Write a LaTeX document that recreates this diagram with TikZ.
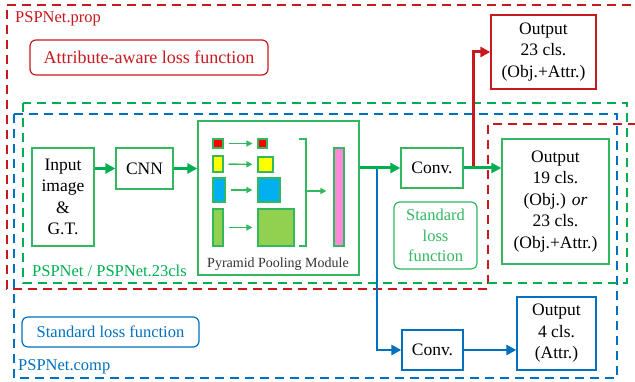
\documentclass[tikz,border=0pt]{standalone}
\usepackage{fontspec}
\setmainfont{Liberation Serif}
\usetikzlibrary{arrows.meta}

\definecolor{pspred}{RGB}{200,25,30}
\definecolor{pspgreen}{RGB}{0,176,80}
\definecolor{nodegreen}{RGB}{50,185,95}
\definecolor{pspblue}{RGB}{0,112,192}
\definecolor{ppmred}{RGB}{255,0,0}
\definecolor{ppmyellow}{RGB}{255,255,0}
\definecolor{ppmcyan}{RGB}{0,176,240}
\definecolor{ppmlime}{RGB}{146,208,80}
\definecolor{ppmpink}{RGB}{255,136,216}

\begin{document}
\begin{tikzpicture}[x=1pt,y=-1pt,
  region/.style={line width=2.2pt, dash pattern=on 9pt off 6pt},
  box/.style={draw=#1, line width=1.3pt, fill=white, inner sep=0pt, align=center,
    font=\fontsize{17.5}{21.5}\selectfont},
  box/.default=nodegreen,
  lossbox/.style={draw=#1, text=#1, line width=1.2pt, rounded corners=6pt, inner sep=0pt,
    align=center, font=\fontsize{16.5}{20.5}\selectfont},
  tag/.style={anchor=west, inner sep=0pt, font=\fontsize{16.5}{20}\selectfont},
  cell/.style={draw=nodegreen, line width=1.1pt, fill=#1, inner sep=0pt},
  flow/.style={line width=3pt, -{Triangle[length=10pt,width=10pt]}},
  smallflow/.style={draw=nodegreen, line width=1.4pt, -{Triangle[length=6pt,width=6pt]},
    shorten <=5pt, shorten >=5pt},
]
\useasboundingbox (0,0) rectangle (635,382);
\clip (0,0) rectangle (635,382);

% nested experiment regions
\draw[region, pspred] (7,5) -- (645,5) -- (645,124) -- (488,124) -- (488,289) -- (7,289) -- cycle;
\draw[region, pspblue] (14,114) rectangle (617,378);
\draw[region, pspgreen] (23,103) rectangle (627,283);

% region labels
\node[tag, text=pspred] (propname) at (15,19) {PSPNet.prop};
\node[lossbox=pspred, minimum width=238, minimum height=35,
  font=\fontsize{18}{21}\selectfont] (attrloss) at (149,57.5) {Attribute-aware loss function};
\node[tag, text=pspgreen] (basename) at (32,271) {PSPNet / PSPNet.23cls};
\node[lossbox=nodegreen, minimum width=83, minimum height=67] (stdloss) at (435.5,235.5)
  {Standard\\loss\\function};
\node[lossbox=pspblue, minimum width=177, minimum height=30] (comploss) at (110.5,332)
  {Standard loss function};
\node[tag, text=pspblue] (compname) at (18,367) {PSPNet.comp};

% main pipeline
\node[box, minimum width=62, minimum height=98] (in) at (63,197) {Input\\image\\\&\\G.T.};
\node[box, minimum width=57, minimum height=41] (cnn) at (144.5,168.5) {CNN};
\node[box, minimum width=161, minimum height=154] (ppm) at (278.5,198) {};
\node[box, minimum width=62, minimum height=40] (conv) at (432,168) {Conv.};
\node[box, minimum width=107, minimum height=125] (out19) at (555.5,201.5)
  {Output\\19 cls.\\(Obj.) \textit{or}\\23 cls.\\(Obj.+Attr.)};
\node[box=pspred, minimum width=105, minimum height=74] (out23) at (543.5,52)
  {Output\\23 cls.\\(Obj.+Attr.)};
\node[box=pspblue, minimum width=61, minimum height=40] (conv2) at (432.5,350) {Conv.};
\node[box=pspblue, minimum width=79, minimum height=73] (out4) at (556.5,333.5)
  {Output\\4 cls.\\(Attr.)};

% pyramid pooling module contents
\node[inner sep=0pt, text=black!80, font=\fontsize{14}{16}\selectfont] (ppmname) at (278,264)
  {Pyramid Pooling Module};
\node[cell=ppmred, minimum width=10, minimum height=9] (a1) at (218,143.5) {};
\node[cell=ppmred, minimum width=9, minimum height=9] (b1) at (262.5,143.5) {};
\node[cell=ppmyellow, minimum width=10, minimum height=16] (a2) at (218,164) {};
\node[cell=ppmyellow, minimum width=15, minimum height=15] (b2) at (265.5,164.5) {};
\node[cell=ppmcyan, minimum width=12, minimum height=24] (a3) at (219,190) {};
\node[cell=ppmcyan, minimum width=22, minimum height=24] (b3) at (269,190) {};
\node[cell=ppmlime, minimum width=10, minimum height=37] (a4) at (218,227.5) {};
\node[cell=ppmlime, minimum width=36, minimum height=37] (b4) at (276,227.5) {};
\node[cell=ppmpink, minimum width=10, minimum height=98] (concat) at (339,197) {};
\foreach \i in {1,2,3,4} \draw[smallflow] (a\i) -- (b\i);
\draw[nodegreen, line width=1.3pt] (299,139) -- (306,139) -- (306,246) -- (299,246);
\coordinate (brace) at (306,191);
\draw[smallflow, shorten <=0pt, shorten >=7pt] (brace) -- (brace -| concat.west);

% connectors
\coordinate (split) at (377,168);
\coordinate (tap) at (473,168);
\draw[flow, pspblue, line width=2.6pt] (split) |- (conv2.west);
\draw[flow, pspblue, line width=2.6pt] (conv2.east) -- (conv2.east -| out4.west);
\draw[flow, pspred] (tap) |- (out23.west);
\draw[flow, pspgreen] (in.east |- cnn) -- (cnn.west);
\draw[flow, pspgreen] (cnn.east) -- (cnn.east -| ppm.west);
\draw[flow, pspgreen] (conv -| ppm.east) -- (conv.west);
\draw[flow, pspgreen] (conv.east) -- (conv.east -| out19.west);
\end{tikzpicture}
\end{document}
